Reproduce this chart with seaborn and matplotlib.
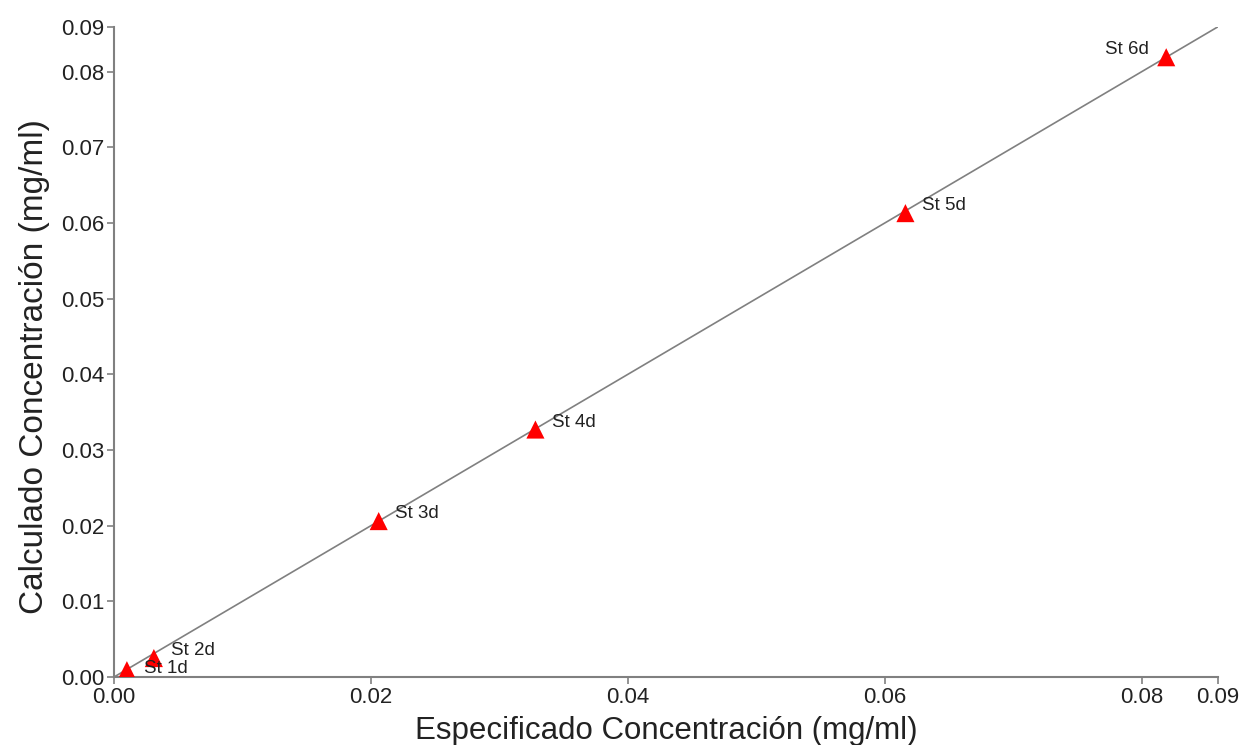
import matplotlib
matplotlib.use("Agg")
import matplotlib.pyplot as plt
import seaborn as sns
import pandas as pd

# data
names = ["St 1d", "St 2d", "St 3d", "St 4d", "St 5d", "St 6d"]
especificado = [0.0010, 0.0031, 0.0206, 0.0328, 0.0616, 0.0819]
calculado = [0.0009, 0.0025, 0.0206, 0.0327, 0.0613, 0.0819]
axis_max = 0.0859
tick_vals = [0.0, 0.02, 0.04, 0.06, 0.08]
ytick_vals = [0.0, 0.01, 0.02, 0.03, 0.04, 0.05, 0.06, 0.07, 0.08]

df = pd.DataFrame({"x": especificado, "y": calculado, "name": names})
fit = pd.DataFrame({"x": [0.0, axis_max], "y": [0.0, axis_max]})

sns.set_style("white")
plt.rcParams["font.family"] = ["Liberation Sans", "DejaVu Sans"]

fig = plt.figure(figsize=(12.45, 7.45), dpi=100)
ax = fig.add_axes([0.0916, 0.0913, 0.8864, 0.8725])

sns.lineplot(data=fit, x="x", y="y", ax=ax, color="#808080", linewidth=1.2)
sns.scatterplot(data=df, x="x", y="y", ax=ax, marker="^", color="#ff0000",
                s=170, edgecolor="none", zorder=3)

for _, r in df.iterrows():
    if r["name"] == "St 6d":
        off = (-44, 2)
    elif r["name"] == "St 1d":
        off = (12, -2)
    else:
        off = (12, 2)
    ax.annotate(r["name"], (r["x"], r["y"]), xytext=off,
                textcoords="offset points", fontsize=13.5, color="#222222")

ax.set_xlim(0, axis_max)
ax.set_ylim(0, axis_max)
ax.set_xticks(tick_vals + [axis_max])
ax.set_xticklabels(["0.00", "0.02", "0.04", "0.06", "0.08", "0.09"])
ax.set_yticks(ytick_vals + [axis_max])
ax.set_yticklabels(["0.00", "0.01", "0.02", "0.03", "0.04", "0.05",
                    "0.06", "0.07", "0.08", "0.09"])

for side in ["top", "right"]:
    ax.spines[side].set_visible(False)
for side in ["left", "bottom"]:
    ax.spines[side].set_color("#808080")
    ax.spines[side].set_linewidth(1.5)
ax.tick_params(axis="both", direction="out", length=5, width=1.2,
               bottom=True, left=True,
               color="#808080", labelsize=16, labelcolor="#222222", pad=2)

ax.set_xlabel("Especificado Concentración (mg/ml)", fontsize=22.5, color="#222222", labelpad=6)
ax.set_ylabel("Calculado Concentración (mg/ml)", fontsize=24, color="#222222",
              labelpad=8, y=0.478)

fig.savefig("out.png", dpi=100, facecolor="white")
